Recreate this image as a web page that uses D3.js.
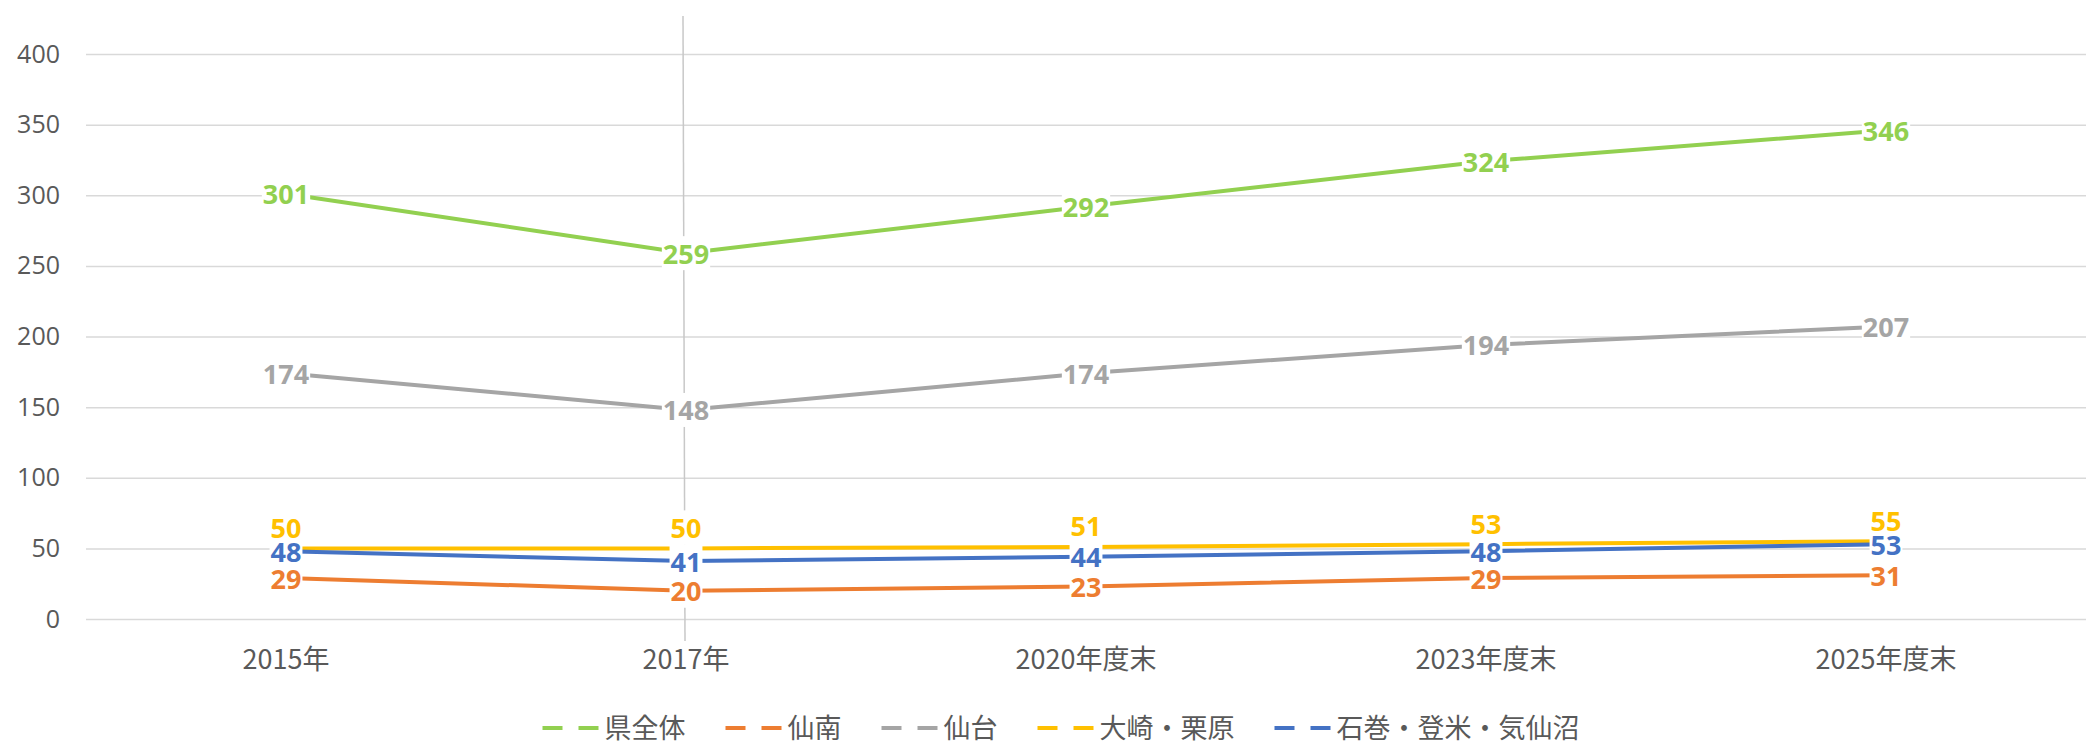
<!DOCTYPE html>
<html><head><meta charset="utf-8">
<script src="https://cdn.jsdelivr.net/npm/d3@7"></script>
<style>body{margin:0;background:#fff}</style>
</head><body><svg id="c" width="2088" height="746"></svg>
<script>
// ---- data ----
const categories = ["2015年", "2017年", "2020年度末", "2023年度末", "2025年度末"];
const seriesNames = ["県全体", "仙南", "仙台", "大崎・栗原", "石巻・登米・気仙沼"];
const valuesKen = [301, 259, 292, 324, 346];
const valuesSennan = [29, 20, 23, 29, 31];
const valuesSendai = [174, 148, 174, 194, 207];
const valuesOsaki = [50, 50, 51, 53, 55];
const valuesIshinomaki = [48, 41, 44, 48, 53];
const yTicks = [0, 50, 100, 150, 200, 250, 300, 350, 400];
const markerCategory = "2017年";

// ---- styles ----
const colors = ["#92D050", "#ED7D31", "#A5A5A5", "#FFC000", "#4472C4"];
const labelAbove = [false, false, false, true, false];
const allValues = [valuesKen, valuesSennan, valuesSendai, valuesOsaki, valuesIshinomaki];
const series = seriesNames.map((n, i) => ({name: n, values: allValues[i], color: colors[i], above: labelAbove[i]}));

const svg = d3.select("#c");
const plot = {left: 86, right: 2086, top: 54, bottom: 619};
const textGray = "#595959";
const numFont = "'Open Sans', 'Noto Sans', sans-serif";
const cjkFont = "'Noto Sans CJK JP', 'Noto Sans', sans-serif";

const x = d3.scaleBand().domain(categories).range([plot.left, plot.right]);
const xc = c => x(c) + x.bandwidth() / 2;
const y = d3.scaleLinear().domain([0, 400]).range([plot.bottom, plot.top]);

// gridlines + y labels
const yAxis = d3.axisLeft(y).tickValues(yTicks).tickSize(-(plot.right - plot.left)).tickPadding(26);
const gy = svg.append("g").attr("transform", `translate(${plot.left},0)`).call(yAxis);
gy.select(".domain").remove();
gy.selectAll(".tick line").attr("stroke", "#d9d9d9").attr("stroke-width", 1.5);
gy.selectAll(".tick text").attr("fill", textGray).style("font-family", numFont).style("font-size", "25px");

// x axis labels
const xAxis = d3.axisBottom(x).tickSize(0).tickPadding(31);
const gx = svg.append("g").attr("transform", `translate(0,${plot.bottom})`).call(xAxis);
gx.select(".domain").remove();
gx.selectAll(".tick text").attr("fill", textGray).style("font-family", cjkFont).style("font-size", "27px");

// vertical marker line at 2017
svg.append("line")
  .attr("x1", xc(markerCategory) - 3).attr("x2", xc(markerCategory) - 1)
  .attr("y1", 16).attr("y2", 641)
  .attr("stroke", "#c8c8c8").attr("stroke-width", 1.5);

// lines
const line = d3.line().x((d, i) => xc(categories[i])).y(d => y(d));
svg.append("g").selectAll("path").data(series).join("path")
  .attr("d", s => line(s.values))
  .attr("fill", "none").attr("stroke", s => s.color).attr("stroke-width", 4)
  .attr("stroke-linejoin", "round");

// data labels
const labels = [];
series.forEach(s => s.values.forEach((v, i) => {
  labels.push({x: xc(categories[i]), y: y(v) + (s.above ? -21 : 0), text: String(v), color: s.color});
}));
const lg = svg.append("g");
const bgG = lg.append("g"), txG = lg.append("g");
const texts = txG.selectAll("text").data(labels).join("text")
  .attr("x", d => d.x).attr("y", d => d.y)
  .attr("text-anchor", "middle").attr("dominant-baseline", "central")
  .attr("fill", d => d.color)
  .style("font-family", numFont).style("font-size", "27px").style("font-weight", "bold")
  .text(d => d.text);
texts.each(function(d) {
  const b = this.getBBox();
  bgG.append("rect").attr("x", b.x - 1).attr("y", d.y - 17).attr("width", b.width + 2).attr("height", 34).attr("fill", "#fff");
});

// legend
const leg = svg.append("g");
const legY = 726;
const markW = 56, markGap = 6, itemGap = 40;
const items = leg.selectAll("g").data(series).join("g");
items.append("line").attr("x1", 0).attr("x2", markW).attr("y1", legY + 2).attr("y2", legY + 2)
  .attr("stroke", d => d.color).attr("stroke-width", 4).attr("stroke-dasharray", "20,16");
items.append("text").attr("x", markW + markGap).attr("y", legY)
  .attr("dominant-baseline", "central").attr("fill", textGray)
  .style("font-family", cjkFont).style("font-size", "27px").text(d => d.name);
const widths = [];
items.each(function() { widths.push(this.getBBox().width); });
const total = d3.sum(widths) + itemGap * (widths.length - 1);
let cx = 1061 - total / 2;
items.each(function(d, i) { d3.select(this).attr("transform", `translate(${cx},0)`); cx += widths[i] + itemGap; });
</script></body></html>
